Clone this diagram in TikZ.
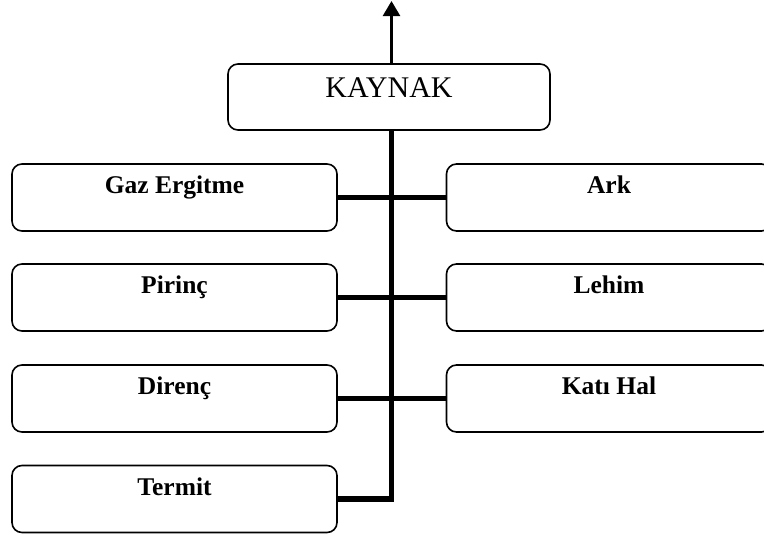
\documentclass[tikz,border=0pt]{standalone}
\usepackage{fontspec}
\setmainfont{Liberation Serif}
\usetikzlibrary{arrows.meta}

\tikzset{
  kutu/.style={draw, line width=1.6pt, rounded corners=10pt, minimum width=325pt,
    inner xsep=4pt, inner ysep=5pt, text height=24.5pt, text depth=32.5pt,
    font=\fontsize{25.5}{30}\selectfont\bfseries},
  anakutu/.style={kutu, minimum width=322pt, text height=28pt, text depth=28pt,
    font=\fontsize{30}{35}\selectfont},
  bag/.style={line width=5.5pt},
}

\begin{document}
\begin{tikzpicture}[x=1pt, y=-1pt]
			%%%%% START %%%%%
			\useasboundingbox (0,0) rectangle (764,536);
			\clip (0,0) rectangle (764,536);
			
			\node[anakutu] (kaynak) at (389,97) {KAYNAK};
			
			% left column
			\node[kutu] (gaz) at (174.5,197.5) {Gaz Ergitme};
			\node[kutu] (pirinc) at (174.5,297.5) {Pirinç};
			\node[kutu] (direnc) at (174.5,398.5) {Direnç};
			\node[kutu] (termit) at (174.5,499) {Termit};
			
			% right column (runs off the page)
			\node[kutu] (ark) at (609,197.5) {Ark};
			\node[kutu] (lehim) at (609,297.5) {Lehim};
			\node[kutu] (katihal) at (609,398.5) {Katı Hal};
			
			% trunk and branches
			\coordinate (govde) at ([xshift=2.5pt]kaynak.south);
			\draw[bag] (govde) |- (termit.east);
			\draw[bag] (gaz.east) -- (ark.west);
			\draw[bag] (pirinc.east) -- (lehim.west);
			\draw[bag] (direnc.east) -- (katihal.west);
			
			% output arrow
			\coordinate (ust) at (391.5,1);
			\draw[line width=2.5pt, -{Triangle[length=15pt,width=17pt]}] ([xshift=2.5pt]kaynak.north) -- (ust);
			
			%%%%% END %%%%%
		\end{tikzpicture}
\end{document}
